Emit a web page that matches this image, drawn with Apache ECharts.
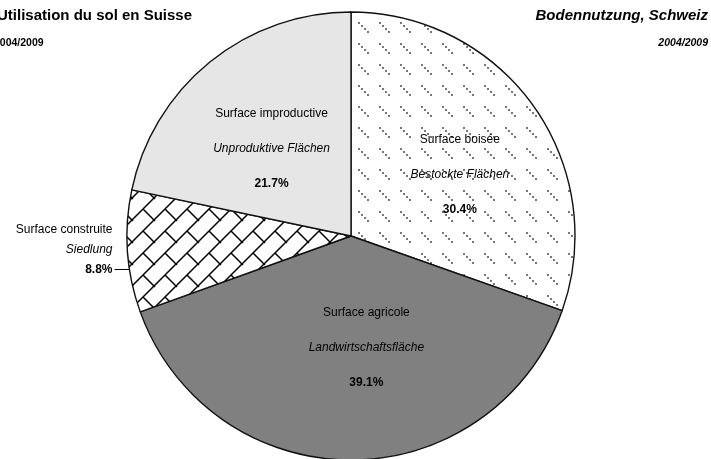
<!DOCTYPE html>
<html>
<head>
<meta charset="utf-8">
<script src="https://cdn.jsdelivr.net/npm/echarts@6/dist/echarts.min.js"></script>
<style>
html, body { margin: 0; padding: 0; background: #fff; }
#chart { width: 711px; height: 459px; }
</style>
</head>
<body>
<div id="chart"></div>
<script>
// land use, Switzerland 2004/2009 (share of total area, %)
const namesFr = ['Surface boisée', 'Surface agricole', 'Surface construite', 'Surface improductive']
const namesDe = ['Bestockte Flächen', 'Landwirtschaftsfläche', 'Siedlung', 'Unproduktive Flächen']
const shares = [30.4, 39.1, 8.8, 21.7]
const titleFr = 'Utilisation du sol en Suisse'
const titleDe = 'Bodennutzung, Schweiz'
const period = '2004/2009'

const FONT = '"Liberation Sans", Arial, sans-serif'
const CX = 351, CY = 236, R = 224

// dashed "\" hatch for forest
function dashTile() {
  const c = document.createElement('canvas')
  c.width = 21; c.height = 21
  const ctx = c.getContext('2d')
  ctx.fillStyle = '#fff'
  ctx.fillRect(0, 0, 21, 21)
  ctx.fillStyle = '#777'
  for (let k = 0; k < 4; k++) ctx.fillRect(1 + 3 * k, 1 + 3 * k, 2, 2)
  return c
}

// diagonal brick hatch for built-up area
function brickTile(t) {
  const c = document.createElement('canvas')
  c.width = t; c.height = t
  const ctx = c.getContext('2d')
  ctx.fillStyle = '#fff'
  ctx.fillRect(0, 0, t, t)
  ctx.strokeStyle = '#000'
  ctx.lineWidth = 1.5
  ctx.beginPath()
  ctx.moveTo(t + 2, -2); ctx.lineTo(-2, t + 2)
  ctx.moveTo(t / 2, t / 2); ctx.lineTo(t + 2, t + 2)
  ctx.moveTo(-2, -2); ctx.lineTo(1, 1)
  ctx.stroke()
  return c
}

const fills = [
  { image: dashTile(), repeat: 'repeat' },
  '#808080',
  { image: brickTile(22), repeat: 'repeat' },
  '#e6e6e6'
]

// small nudges of the label blocks
const labelShift = [[15, 5], [15, -3], [0, 18], [-7, 2]]

const richIn = {
  fr: { fontSize: 12, lineHeight: 35, color: '#000', fontFamily: FONT },
  de: { fontSize: 12, lineHeight: 35, color: '#000', fontStyle: 'italic', fontFamily: FONT },
  pct: { fontSize: 12, lineHeight: 35, color: '#000', fontWeight: 'bold', fontFamily: FONT }
}
const richOut = {
  fr: { fontSize: 12, lineHeight: 20, color: '#000', fontFamily: FONT, align: 'right' },
  de: { fontSize: 12, lineHeight: 20, color: '#000', fontStyle: 'italic', fontFamily: FONT, align: 'right' },
  pct: { fontSize: 12, lineHeight: 20, color: '#000', fontWeight: 'bold', fontFamily: FONT, align: 'right' },
  pad: { fontSize: 12, lineHeight: 20 }
}

const pieData = shares.map(function (v, i) {
  const outside = i === 2
  return {
    name: namesFr[i],
    value: v,
    itemStyle: { color: fills[i] },
    label: outside ? {
      position: 'outside',
      align: 'right',
      distanceToLabelLine: 2,
      rich: richOut,
      formatter: '{fr|' + namesFr[i] + '}\n{de|' + namesDe[i] + '}\n{pct|' + v.toFixed(1) + '%}\n{pad| }\n{pad| }'
    } : {
      position: 'inside',
      rich: richIn,
      formatter: '{fr|' + namesFr[i] + '}\n{de|' + namesDe[i] + '}\n{pct|' + v.toFixed(1) + '%}'
    },
    labelLine: { show: outside, length: 0, length2: 13, lineStyle: { color: '#000', width: 1 } }
  }
})

const myChart = echarts.init(document.getElementById('chart'))
const option = {
  animation: false,
  backgroundColor: '#fff',
  title: [
    { text: titleFr, left: -3, top: 8, padding: 0,
      textStyle: { fontSize: 15, fontWeight: 'bold', color: '#000', fontFamily: FONT } },
    { text: period, left: -6, top: 38, padding: 0,
      textStyle: { fontSize: 10.5, fontWeight: 'bold', color: '#000', fontFamily: FONT } },
    { text: titleDe, right: 3, top: 8, padding: 0,
      textStyle: { fontSize: 15, fontWeight: 'bold', fontStyle: 'italic', color: '#000', fontFamily: FONT } },
    { text: period, right: 3, top: 38, padding: 0,
      textStyle: { fontSize: 10.5, fontWeight: 'bold', fontStyle: 'italic', color: '#000', fontFamily: FONT } }
  ],
  series: [{
    type: 'pie',
    center: [CX, CY],
    radius: R,
    startAngle: 90,
    clockwise: true,
    avoidLabelOverlap: false,
    itemStyle: { borderColor: '#111', borderWidth: 1.4 },
    emphasis: { disabled: true },
    labelLayout: function (params) {
      const d = labelShift[params.dataIndex]
      const out = { dx: d[0], dy: d[1] }
      if (params.dataIndex === 2 && params.labelLinePoints) {
        const pts = params.labelLinePoints.map(function (p) { return [p[0], p[1] + d[1]] })
        const h = pts[0][1] - CY
        pts[0][0] = CX - Math.sqrt(R * R - h * h) + 1
        pts[1][0] = pts[0][0]
        out.labelLinePoints = pts
      }
      return out
    },
    data: pieData
  }]
}
myChart.setOption(option)
window.addEventListener('resize', function () {
  myChart.resize()
})
</script>
</body>
</html>
